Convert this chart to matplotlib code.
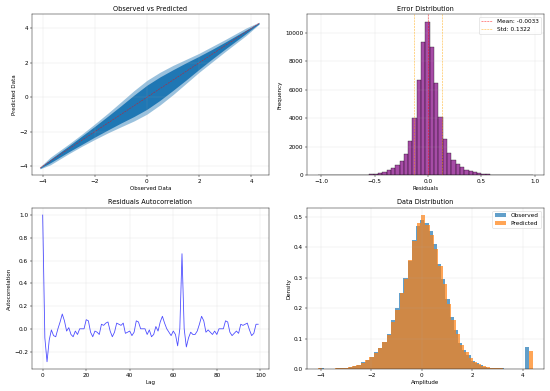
"""
Model diagnostics figure: observed vs predicted, residual histogram,
residual autocorrelation and amplitude distributions.
"""

import numpy as np
import matplotlib
matplotlib.use("Agg")
import matplotlib.pyplot as plt
from matplotlib.ticker import MultipleLocator

# ---- Observed vs Predicted: point cloud envelope ----
cloud_x = [-4.1, -3.7, -3.0, -2.5, -2.0, -1.5, -1.0, -0.5, 0.0, 0.5,
           1.0, 1.5, 2.0, 2.5, 3.0, 3.8, 4.3]
cloud_outer = [0.06, 0.22, 0.28, 0.35, 0.45, 0.57, 0.72, 0.88, 0.98, 0.95,
               0.85, 0.7, 0.55, 0.45, 0.35, 0.22, 0.06]
cloud_core = [0.03, 0.10, 0.17, 0.24, 0.31, 0.40, 0.5, 0.62, 0.7, 0.68,
              0.6, 0.5, 0.38, 0.28, 0.2, 0.1, 0.03]
ident_range = [-4.1, 4.3]

# ---- Error distribution (residual histogram) ----
resid_lo, resid_hi, resid_bins = -1.034, 0.986, 50
resid_counts = [1, 1, 2, 3, 5, 7, 10, 15, 22, 32, 46, 66, 95, 135, 190, 265,
                370, 520, 720, 980, 1500, 2380, 4040, 6700, 9370, 10770,
                9020, 6490, 4065, 2520, 1590, 1050, 780, 560, 400, 290, 210,
                150, 105, 75, 52, 36, 25, 17, 12, 8, 5, 3, 2, 1]
resid_mean = -0.0033
resid_std = 0.1322

# ---- Residuals autocorrelation, lags 0..99 ----
acf_values = [1.0, -0.08, -0.29, -0.10, -0.01, -0.06, -0.07, 0.0, 0.06, 0.13,
              0.07, -0.02, 0.01, -0.05, -0.07, -0.02, -0.05, 0.0, 0.0, 0.0,
              0.08, 0.07, -0.03, -0.07, -0.02, -0.03, -0.05, 0.04, 0.03, 0.05,
              0.06, -0.02, -0.07, -0.03, 0.05, 0.04, 0.03, 0.05, -0.04, -0.03,
              -0.02, -0.06, -0.03, 0.07, 0.06, 0.0, 0.0, 0.0, -0.05, -0.01,
              -0.07, -0.05, 0.02, -0.02, 0.06, 0.11, 0.05, 0.0, -0.03, -0.06,
              -0.02, -0.05, -0.15, 0.0, 0.66, 0.0, -0.16, -0.08, -0.03, -0.05,
              -0.05, -0.02, 0.04, 0.11, 0.07, -0.03, -0.01, -0.03, -0.05, -0.02,
              -0.05, 0.0, 0.0, 0.0, 0.07, 0.06, -0.03, -0.06, -0.04, -0.02,
              -0.04, 0.04, 0.03, 0.04, 0.05, -0.01, -0.06, -0.04, 0.04, 0.04]

# ---- Data distribution (density histograms) ----
obs_lo, obs_hi = -4.05, 4.25
obs_density = [0.003, 0.001, 0.001, 0.001, 0.002, 0.003, 0.004, 0.006, 0.010,
               0.015, 0.022, 0.031, 0.040, 0.055, 0.070, 0.090, 0.115, 0.160,
               0.200, 0.250, 0.300, 0.355, 0.425, 0.470, 0.490, 0.480, 0.455,
               0.410, 0.345, 0.295, 0.230, 0.170, 0.130, 0.085, 0.062, 0.045,
               0.028, 0.019, 0.012, 0.008, 0.005, 0.003, 0.002, 0.002, 0.001,
               0.001, 0.0005, 0.0003, 0.0, 0.072]
pred_lo, pred_hi = -4.12, 4.40
pred_density = [0.002, 0.001, 0.001, 0.001, 0.002, 0.002, 0.004, 0.006, 0.009,
                0.014, 0.021, 0.030, 0.040, 0.053, 0.070, 0.088, 0.112, 0.155,
                0.195, 0.250, 0.295, 0.360, 0.420, 0.480, 0.505, 0.475, 0.440,
                0.395, 0.340, 0.280, 0.215, 0.160, 0.115, 0.080, 0.055, 0.038,
                0.024, 0.016, 0.010, 0.006, 0.004, 0.003, 0.002, 0.001, 0.001,
                0.0005, 0.0003, 0.0, 0.0, 0.059]

plt.rcParams['xtick.labelsize'] = 10.5
plt.rcParams['ytick.labelsize'] = 10.5
plt.rcParams['legend.fontsize'] = 10.5


def plot_observed_vs_predicted(ax):
    x = np.array(cloud_x)
    outer = np.array(cloud_outer)
    core = np.array(cloud_core)
    ax.fill_between(x, x - outer, x + outer, color='tab:blue', alpha=0.45, lw=0)
    ax.fill_between(x, x - core, x + core, color='tab:blue', alpha=1.0, lw=0)
    ax.plot(ident_range, ident_range, 'r--', lw=1, alpha=0.7)
    ax.set_xlim(-4.41, 4.68)
    ax.set_ylim(-4.54, 4.83)
    ax.set_title("Observed vs Predicted")
    ax.set_xlabel("Observed Data")
    ax.set_ylabel("Predicted Data")
    ax.grid(True, alpha=0.3)


def plot_error_distribution(ax):
    edges = np.linspace(resid_lo, resid_hi, resid_bins + 1)
    ax.bar(edges[:-1], resid_counts, width=np.diff(edges), align='edge',
           color='purple', alpha=0.7, edgecolor='black', linewidth=0.8)
    ax.axvline(resid_mean, color='red', linestyle='--', lw=1, alpha=0.8,
               label=f"Mean: {resid_mean:.4f}")
    ax.axvline(resid_mean + resid_std, color='orange', linestyle='--', lw=1,
               alpha=0.8, label=f"Std: {resid_std:.4f}")
    ax.axvline(resid_mean - resid_std, color='orange', linestyle='--', lw=1,
               alpha=0.8)
    ax.set_xlim(-1.135, 1.087)
    ax.xaxis.set_major_locator(MultipleLocator(0.5))
    ax.set_title("Error Distribution")
    ax.set_xlabel("Residuals")
    ax.set_ylabel("Frequency")
    ax.legend(loc='upper right')
    ax.grid(True, alpha=0.3)


def plot_autocorrelation(ax):
    lags = np.arange(len(acf_values))
    ax.plot(lags, acf_values, color='blue', alpha=0.7, lw=1.5)
    ax.set_title("Residuals Autocorrelation")
    ax.set_xlabel("Lag")
    ax.set_ylabel("Autocorrelation")
    ax.grid(True, alpha=0.3)


def plot_data_distribution(ax):
    obs_edges = np.linspace(obs_lo, obs_hi, len(obs_density) + 1)
    pred_edges = np.linspace(pred_lo, pred_hi, len(pred_density) + 1)
    ax.bar(obs_edges[:-1], obs_density, width=np.diff(obs_edges), align='edge',
           color='tab:blue', alpha=0.7, label='Observed')
    ax.bar(pred_edges[:-1], pred_density, width=np.diff(pred_edges), align='edge',
           color='tab:orange', alpha=0.7, label='Predicted')
    ax.set_title("Data Distribution")
    ax.set_xlabel("Amplitude")
    ax.set_ylabel("Density")
    ax.legend(loc='upper right')
    ax.grid(True, alpha=0.3)


W_IN = 14
DPI = 550 / W_IN
fig, axes = plt.subplots(2, 2, figsize=(W_IN, 391 / DPI))
plot_observed_vs_predicted(axes[0, 0])
plot_error_distribution(axes[0, 1])
plot_autocorrelation(axes[1, 0])
plot_data_distribution(axes[1, 1])
fig.subplots_adjust(left=0.058, right=0.989, bottom=0.056, top=0.964,
                    wspace=0.16, hspace=0.2)
fig.savefig("out.png", dpi=DPI)
plt.close(fig)
